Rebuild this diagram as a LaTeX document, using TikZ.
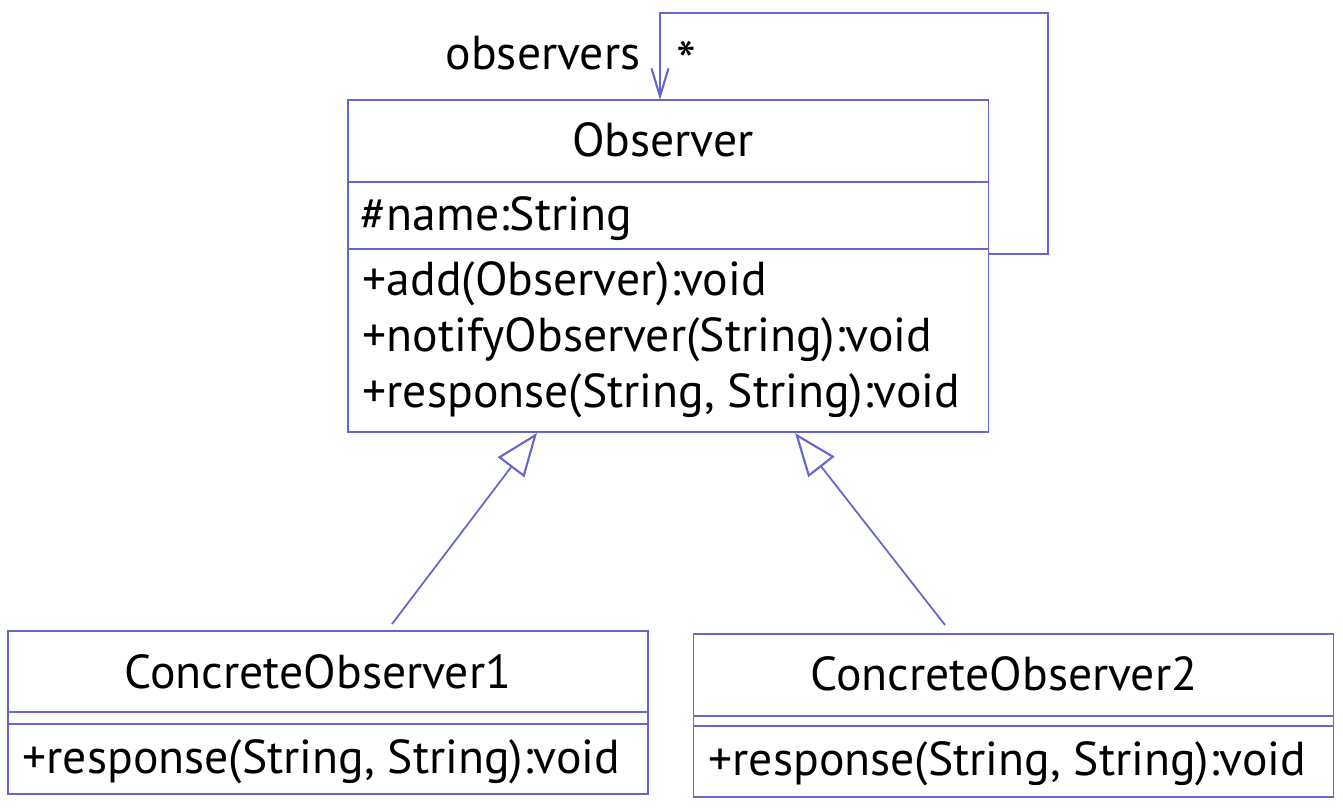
\documentclass[tikz,border=0pt]{standalone}
\usepackage{fontspec}
\setmainfont{PT Sans}
\usetikzlibrary{arrows.meta}
\definecolor{umlblue}{RGB}{102,102,204}
\begin{document}
\begin{tikzpicture}[x=0.01cm,y=-0.01cm,
  box/.style={draw=umlblue, line width=0.4pt, inner sep=0pt},
  divider/.style={draw=umlblue, line width=0.4pt},
  txt/.style={font=\fontsize{13.55}{15}\selectfont, inner sep=0pt, text=black},
  title/.style={txt, anchor=base},
  member/.style={txt, anchor=base west},
  assoc/.style={draw=umlblue, line width=0.6pt, -{Straight Barb[length=0.28cm, width=0.17cm]}},
  inherit/.style={draw=umlblue, line width=0.5pt, -{Triangle[open, length=0.43cm, width=0.33cm, line width=0.6pt]}}
]
\useasboundingbox (0,0) rectangle (1343,810);
\fill[white] (0,0) rectangle (1343,810);

% Observer
\node[box, minimum width=6.40cm, minimum height=3.32cm] (obs) at (668,266) {};
\draw[divider] (348,182) -- (988,182);
\draw[divider] (348,249) -- (988,249);
\node[title] (obsname) at (663,157) {Observer};
\node[member] (attr) at (360,231) {\#name:String};
\node[member] (m1) at (362,296) {+add(Observer):void};
\node[member] (m2) at (362,352) {+notifyObserver(String):void};
\node[member] (m3) at (362,408) {+response(String, String):void};

% ConcreteObserver1
\node[box, minimum width=6.40cm, minimum height=1.63cm] (co1) at (328,712.5) {};
\draw[divider] (8,712) -- (648,712);
\draw[divider] (8,724) -- (648,724);
\node[title] (co1name) at (318,688) {ConcreteObserver1};
\node[member] (co1m) at (22,773) {+response(String, String):void};

% ConcreteObserver2
\node[box, minimum width=6.40cm, minimum height=1.63cm] (co2) at (1013.5,715.5) {};
\draw[divider] (693.5,716) -- (1333.5,716);
\draw[divider] (693.5,726) -- (1333.5,726);
\node[title] (co2name) at (1004,690) {ConcreteObserver2};
\node[member] (co2m) at (708,775) {+response(String, String):void};

% self association
\coordinate (loopout) at (988,254);
\coordinate (loopin) at (660,100);
\draw[assoc] (loopout) -- (1048,254) -- (1048,13) -- (660,13) -- (loopin);
\node[title] (rolename) at (543,70) {observers};
\node[title, font=\fontsize{16}{18}\selectfont] (mult) at (686,82) {*};

% generalizations
\coordinate (g1s) at (392,624);
\coordinate (g1e) at (537,433);
\coordinate (g2s) at (945,625);
\coordinate (g2e) at (795,433);
\draw[inherit] (g1s) -- (g1e);
\draw[inherit] (g2s) -- (g2e);
\end{tikzpicture}
\end{document}
